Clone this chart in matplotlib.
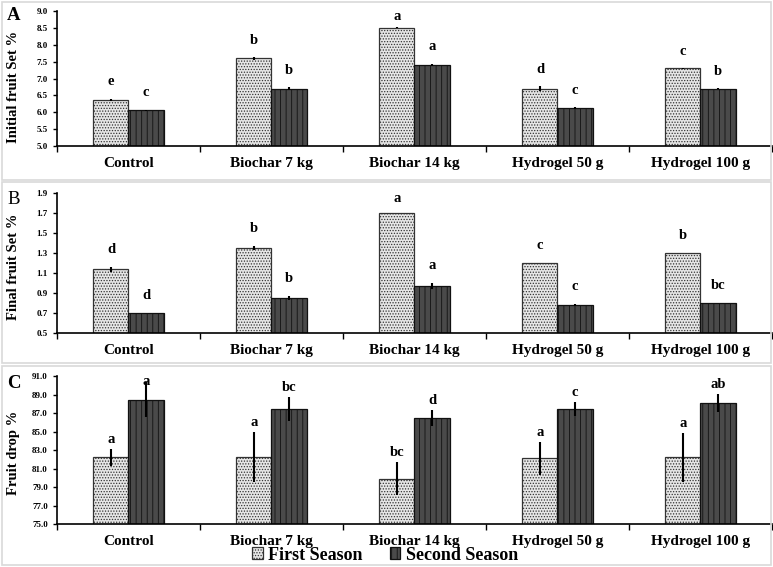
import numpy as np
import matplotlib
matplotlib.use("Agg")
import matplotlib.pyplot as plt
from matplotlib.patches import Rectangle

plt.rcParams['font.family'] = ['Liberation Serif', 'DejaVu Serif']
plt.rcParams['font.weight'] = 'bold'
plt.rcParams['axes.labelweight'] = 'bold'
plt.rcParams['hatch.linewidth'] = 0.6

# data
treatments = ['Control', 'Biochar 7 kg', 'Biochar 14 kg', 'Hydrogel 50 g', 'Hydrogel 100 g']
seasons = ['First Season', 'Second Season']

initial_first = [6.37, 7.60, 8.51, 6.70, 7.30]
initial_second = [6.06, 6.70, 7.41, 6.13, 6.70]
initial_err_first = [0.03, 0.04, 0.02, 0.07, 0.01]
initial_err_second = [0.02, 0.04, 0.03, 0.02, 0.01]
initial_letters_first = ['e', 'b', 'a', 'd', 'c']
initial_letters_second = ['c', 'b', 'a', 'c', 'b']

final_first = [1.135, 1.35, 1.70, 1.20, 1.30]
final_second = [0.70, 0.85, 0.97, 0.78, 0.80]
final_err_first = [0.025, 0.02, 0.003, 0.003, 0.003]
final_err_second = [0.003, 0.02, 0.03, 0.01, 0.003]
final_letters_first = ['d', 'b', 'a', 'c', 'b']
final_letters_second = ['d', 'b', 'a', 'c', 'bc']

drop_first = [82.2, 82.25, 79.9, 82.1, 82.2]
drop_second = [88.45, 87.45, 86.5, 87.45, 88.1]
drop_err_first = [0.9, 2.7, 1.8, 1.75, 2.65]
drop_err_second = [1.9, 1.3, 0.87, 0.75, 1.0]
drop_letters_first = ['a', 'a', 'bc', 'a', 'a']
drop_letters_second = ['a', 'bc', 'd', 'c', 'ab']

panels = [
    dict(tag='A', ylabel='Initial fruit Set %', ylim=(5.0, 9.0), step=0.5, pad=0.5,
         v1=initial_first, v2=initial_second, e1=initial_err_first, e2=initial_err_second,
         l1=initial_letters_first, l2=initial_letters_second,
         rect=[0.0737, 0.7425, 0.925, 0.238], box=(2, 180), tagy=15, tagw='bold', labely=0.44),
    dict(tag='B', ylabel='Final fruit Set %', ylim=(0.5, 1.9), step=0.2, pad=0.17,
         v1=final_first, v2=final_second, e1=final_err_first, e2=final_err_second,
         l1=final_letters_first, l2=final_letters_second,
         rect=[0.0737, 0.4127, 0.925, 0.247], box=(182, 363), tagy=200, tagw='normal', labely=0.47),
    dict(tag='C', ylabel='Fruit drop %', ylim=(75.0, 91.0), step=2.0, pad=1.0,
         v1=drop_first, v2=drop_second, e1=drop_err_first, e2=drop_err_second,
         l1=drop_letters_first, l2=drop_letters_second,
         rect=[0.0737, 0.0758, 0.925, 0.261], box=(366, 565), tagy=384, tagw='bold', labely=0.48),
]

W, H = 773, 567
fig = plt.figure(figsize=(W / 100, H / 100), dpi=100)

x = np.arange(len(treatments))
w = 0.245
style1 = dict(color='#e6e6e6', edgecolor='#333333', hatch='......', linewidth=0.9)
style2 = dict(color='#4a4a4a', edgecolor='#111111', hatch='|||', linewidth=0.9)
ekw = dict(elinewidth=1.5, ecolor='black', capsize=0)

for p in panels:
    # light grey frame around each panel
    y0, y1 = p['box']
    fig.patches.append(Rectangle((2 / W, 1 - y1 / H), 769 / W, (y1 - y0) / H,
                                 transform=fig.transFigure, fill=False,
                                 edgecolor='#d9d9d9', linewidth=1.2))

    ax = fig.add_axes(p['rect'])
    b1 = ax.bar(x - w / 2, p['v1'], w, yerr=p['e1'], error_kw=ekw, label=seasons[0], **style1)
    b2 = ax.bar(x + w / 2, p['v2'], w, yerr=p['e2'], error_kw=ekw, label=seasons[1], **style2)

    lo, hi = p['ylim']
    ax.set_ylim(lo, hi)
    ax.set_xlim(-0.5, len(treatments) - 0.5)
    ax.set_yticks(np.arange(lo, hi + p['step'] / 2, p['step']))
    ax.yaxis.set_major_formatter(matplotlib.ticker.FormatStrFormatter('%.1f'))
    ax.tick_params(axis='y', labelsize=6.5, length=3, width=1)
    for t in ax.get_yticklabels():
        t.set_fontweight('bold')
    ax.set_xticks(np.arange(len(treatments) + 1) - 0.5)
    ax.set_xticklabels([])
    ax.tick_params(axis='x', length=4, width=1, direction='out')
    ax.set_xticks(x, minor=True)
    ax.set_xticklabels(treatments, minor=True, fontsize=11)
    ax.tick_params(axis='x', which='minor', length=0, pad=8)
    for s in ['top', 'right']:
        ax.spines[s].set_visible(False)
    ax.spines['left'].set_linewidth(1.2)
    ax.spines['bottom'].set_linewidth(1.2)
    ax.set_ylabel(p['ylabel'], fontsize=10.5)
    ax.yaxis.set_label_coords(-0.052, p['labely'])

    # significance letters
    top = hi - 0.04 * (hi - lo)
    for i in range(len(treatments)):
        ax.text(x[i] - w / 2, min(p['v1'][i] + p['e1'][i] + p['pad'], top), p['l1'][i],
                ha='center', va='center', fontsize=10.5)
        ax.text(x[i] + w / 2, min(p['v2'][i] + p['e2'][i] + p['pad'], top), p['l2'][i],
                ha='center', va='center', fontsize=10.5)

    fig.text(7 / W, 1 - p['tagy'] / H, p['tag'], fontsize=13.5, fontweight=p['tagw'],
             ha='left', va='center')

fig.legend(handles=[b1, b2], labels=seasons, loc='center', bbox_to_anchor=(385 / W, 1 - 555 / H),
           ncol=2, frameon=False, fontsize=13, handlelength=0.6, handleheight=0.6,
           handletextpad=0.3, columnspacing=1.5, borderpad=0)

fig.savefig('out.png', dpi=100)
